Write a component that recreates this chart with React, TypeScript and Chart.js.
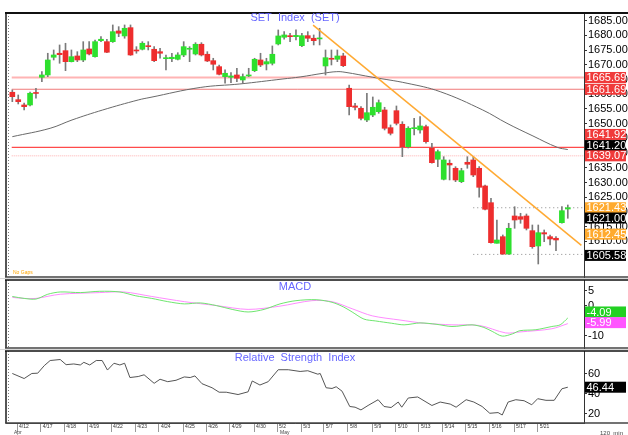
import React, { useEffect, useRef } from 'react';
import { Chart, registerables } from 'chart.js';

Chart.register(...registerables);

const FONT = "'Liberation Sans', Arial, sans-serif";

// ---------- SET Index, 120-min candles ----------
const opens = [1660.67,1658.15,1656.35,1656.35,1660.53,1665.76,1666.55,1672.56,1673.92,1674.80,
 1671.06,1673.00,1671.64,1675.38,1672.76,1678.20,1677.86,1677.86,1681.50,1679.80,
 1682.62,1675.04,1675.28,1676.40,1675.28,1674.46,1672.08,1672.08,1671.88,1673.34,
 1675.28,1673.68,1676.98,1673.58,1671.40,1669.37,1665.97,1665.76,1666.55,1664.85,
 1666.21,1668.01,1671.64,1670.28,1670.52,1677.08,1679.36,1679.80,1679.56,1676.50,
 1679.90,1679.02,1678.80,1669.60,1672.22,1671.88,1673.00,1662.03,1656.01,1655.23,
 1651.25,1652.95,1654.07,1654.65,1648.64,1654.41,1649.79,1642.18,1648.30,1647.86,
 1648.98,1641.64,1637.90,1631.10,1636.54,1634.84,1630.29,1636.88,1637.67,1634.84,
 1628.83,1623.15,1609.36,1611.60,1605.70,1618.63,1618.40,1618.63,1613.64,1608.44,
 1612.96,1611.60,1611.06,1616.36,1621.00];
const highs = [1661.45,1659.75,1657.03,1660.77,1662.03,1667.67,1673.92,1675.04,1676.74,1677.32,
 1675.04,1674.46,1677.86,1677.86,1678.44,1679.56,1678.68,1683.54,1682.96,1683.54,
 1683.54,1676.16,1677.86,1677.86,1676.16,1675.62,1673.34,1673.92,1674.12,1677.86,
 1676.16,1677.52,1677.52,1674.46,1672.22,1669.94,1668.25,1667.33,1668.82,1666.89,
 1668.82,1672.22,1673.92,1672.22,1676.40,1681.84,1681.26,1680.71,1681.84,1680.71,
 1681.26,1680.14,1682.41,1675.04,1675.04,1675.04,1673.92,1663.15,1656.93,1655.77,
 1660.33,1659.07,1658.05,1655.57,1649.56,1656.01,1650.67,1648.98,1651.83,1652.38,
 1649.56,1643.34,1641.06,1638.78,1637.67,1635.39,1634.84,1638.78,1638.78,1635.39,
 1629.17,1624.65,1617.27,1612.18,1616.15,1621.79,1619.55,1619.31,1615.57,1615.57,
 1613.88,1612.18,1611.60,1621.79,1622.37];
const lows = [1657.47,1656.69,1654.65,1656.01,1658.63,1664.27,1665.97,1671.64,1670.52,1668.01,
 1670.96,1671.06,1671.06,1673.34,1672.56,1677.86,1674.10,1677.60,1679.56,1679.02,
 1673.20,1673.92,1675.04,1675.04,1671.06,1672.22,1668.25,1671.06,1671.64,1672.76,
 1671.06,1673.34,1673.00,1671.06,1668.25,1666.55,1663.73,1663.93,1664.27,1663.73,
 1665.97,1667.67,1669.37,1668.25,1669.94,1676.74,1678.68,1677.86,1678.44,1676.16,
 1677.86,1676.74,1676.74,1666.55,1669.94,1671.06,1669.37,1652.95,1654.65,1651.25,
 1650.67,1652.38,1653.53,1647.86,1646.16,1649.56,1638.78,1641.74,1646.16,1646.74,
 1643.34,1636.54,1635.39,1630.87,1630.87,1630.29,1629.95,1634.84,1631.99,1625.00,
 1620.67,1609.36,1609.36,1605.58,1605.58,1614.45,1616.15,1613.88,1607.66,1602.32,
 1609.90,1608.78,1606.84,1616.15,1617.85];
const closes = [1659.17,1657.47,1655.77,1660.33,1660.26,1666.55,1671.64,1673.34,1673.44,1671.06,
 1672.76,1671.64,1675.04,1673.68,1677.86,1678.68,1674.26,1681.26,1680.71,1682.41,
 1673.34,1674.70,1677.32,1676.16,1671.40,1673.92,1672.42,1672.56,1673.34,1676.16,
 1675.62,1676.98,1673.34,1671.30,1670.18,1666.78,1667.12,1666.21,1665.42,1665.97,
 1666.55,1671.88,1669.94,1671.06,1673.58,1679.80,1680.14,1679.56,1680.00,1679.90,
 1679.02,1678.20,1679.02,1672.42,1671.88,1673.00,1669.71,1655.77,1655.57,1651.83,
 1653.73,1655.57,1657.13,1648.43,1646.74,1650.13,1642.18,1648.43,1648.64,1649.22,
 1643.88,1636.74,1640.48,1637.67,1635.96,1630.87,1634.03,1636.20,1632.56,1628.38,
 1620.91,1609.56,1610.48,1605.70,1614.45,1617.27,1617.51,1614.45,1608.20,1612.96,
 1612.52,1610.82,1610.48,1620.43,1621.43];

// moving average (bar position, value)
const maBars = [0, 6.4, 10.1, 15.3, 21.3, 23.3, 31.8, 38.5, 45.8, 48.7, 52.6, 54.9, 56.3, 61.0, 66.8, 72.4, 79.6, 83.7, 88.1, 92.2, 94];
const maValues = [1645.58, 1648.43, 1651.25, 1654.65, 1658.05, 1658.9, 1662.3, 1663.49, 1665.19, 1665.87, 1667.12, 1667.67, 1667.46, 1665.76, 1663.73, 1660.87, 1654.65, 1650.13, 1645.82, 1641.98, 1641.2];

// down trend line
const trendBars = [50.9, 96.3];
const trendValues = [1683.5, 1608.65];

// horizontal levels
const levelValues = [1665.69, 1661.69, 1641.92, 1639.07];
const levelStartBar = -0.1;
const supportValues = [1621.43, 1605.58];
const supportStartBar = 78;

const priceTicks = [1610, 1615, 1620, 1625, 1630, 1635, 1640, 1645, 1650, 1655, 1660, 1665, 1670, 1675, 1680, 1685];
const priceTags = [1665.69, 1661.69, 1641.92, 1641.20, 1639.07, 1621.43, 1621.00, 1612.45, 1605.58];

// ---------- MACD ----------
const macdBars = [0,2,4,6,8.1,11.5,14.8,18.2,20.9,23.6,26.3,29.1,31.8,34.5,37.2,39.9,42.6,45.3,48,51.4,54.1,56.1,57.5,59.5,61.5,64.2,66.3,69,71.7,74.4,77.8,79.8,81.2,82.9,84.6,85.9,88.6,91.3,92.7,94];
const macdValues = [3.15,2.5,2.28,3.9,4.67,4.46,4.9,4.67,3.37,2.5,1.41,0.65,0.98,0.1,-1.2,-2.07,-1.2,0.65,1.74,2.07,1.2,-0.43,-2.07,-4.46,-5.1,-5.87,-6.4,-5.76,-6.2,-6.96,-6.4,-7.28,-8.6,-10.2,-9.46,-8.37,-8.04,-6.96,-6.4,-4.09];
const signalBars = [0,2,4,8.1,14.8,18.9,23.6,29.1,34.5,39.9,45.3,50.7,54.1,57.5,60.9,65.6,69.7,74.4,79.1,83.5,85.9,91.3,94];
const signalValues = [2.83,2.5,2.5,3.9,4.46,4.67,3.15,1.41,0.1,-1.2,-0.1,1.74,1.41,-0.98,-3.37,-4.78,-5.87,-6.4,-6.63,-9.13,-8.8,-7.72,-5.99];
const macdTicks = [5, 0, -5, -10];
const macdTags = [-4.09, -5.99];

// ---------- RSI ----------
const rsiBars = [0,2,3.3,4.3,5.4,6.4,8.1,9.1,10.4,11.5,12.1,13.1,14.2,15.2,16.1,17.2,18.2,19,19.9,21.3,
 22.3,24,25,26.3,27.7,29.1,30.1,30.9,32.1,33.8,35,36.2,38.2,39.9,40.6,41.9,43.3,45,46.7,48.7,
 50,51.7,52.1,53.1,54.1,54.8,55.8,57.1,58,59,60.2,61.9,62.9,64.1,65.3,65.9,67,68.6,71,72.4,
 74.1,75.1,76.8,78.1,79.5,80.8,82.2,82.9,83.9,85.2,86.6,87.9,88.9,90.3,91.7,93,94];
const rsiValues = [60,55,60,60.3,67.7,72.8,73.8,68.7,69.4,68.4,71,68.4,72.8,72.8,63.4,70.1,68.4,70.1,56,57,
 58.7,50.3,54.3,51.9,53.3,56.6,56,57.6,49.9,45.9,41.5,41.5,39.2,41.9,52.6,48.6,51.9,63.7,63.7,62,
 62.7,59.3,60,45.9,45.2,46.9,42.5,27.4,26.7,24,28.4,34.1,27.4,26.4,31.8,26.7,35.8,36.8,28.4,31.8,
 29.8,26.7,34.1,31.8,27.4,20.7,21.4,19,31.8,34.1,33.1,29.1,35.1,33.5,33.5,44.9,46.44];
const rsiTicks = [20, 40, 60];
const rsiTags = [46.44];

// ---------- dates ----------
const dateLabels = ['4/12','4/17','4/18','4/19','4/22','4/23','4/24','4/25','4/26','4/29','4/30','5/2','5/3','5/7','5/8','5/9','5/10','5/13','5/14','5/15','5/16','5/17','5/21'];
const dateTickBars = [0.8,4.8,8.8,12.7,16.7,20.8,24.8,28.9,32.8,36.8,40.9,44.8,48.9,52.7,56.8,60.9,64.9,68.8,72.8,76.7,80.8,84.9,88.9];

// ---------- styling ----------
const X_MIN = -1.07;
const X_MAX = 96.74;
const GREEN = '#2ee02e';
const RED = '#ee2e2e';
const TITLE_COLOR = '#6666ff';

type Tag = { value: number; text: string; bg: string; nudge: number };
type Note = { text: string; x: number; y: number; size: number; color: string };

const priceTagStyle = [
  { bg: '#f03a3a', nudge: 0 },
  { bg: '#f03a3a', nudge: 0 },
  { bg: '#f03a3a', nudge: -13 },
  { bg: '#000000', nudge: -4 },
  { bg: '#f03a3a', nudge: 0 },
  { bg: '#ffaa2e', nudge: 0 },
  { bg: '#000000', nudge: 9 },
  { bg: '#ffaa2e', nudge: 0 },
  { bg: '#000000', nudge: 1 },
];
const macdTagStyle = [
  { bg: '#22d022', nudge: -6 },
  { bg: '#ff55ff', nudge: -1 },
];
const rsiTagStyle = [{ bg: '#000000', nudge: 0 }];

function panelPlugin(cfg: { title: string; titleY: number; tags: Tag[]; band: boolean; notes: Note[]; topWidth: number }) {
  return {
    id: 'panel',
    beforeDraw(chart: any) {
      const { ctx, width, height, chartArea: a } = chart;
      ctx.save();
      ctx.fillStyle = '#ffffff';
      ctx.fillRect(0, 0, width, height);
      if (cfg.band) {
        ctx.fillStyle = '#d6d6d6';
        ctx.fillRect(0, 0, width, a.top - 1);
      }
      ctx.restore();
    },
    afterDraw(chart: any) {
      const { ctx, width, chartArea: a } = chart;
      const y = chart.scales.y;
      ctx.save();
      ctx.strokeStyle = '#777';
      ctx.lineWidth = 1;
      ctx.setLineDash([1, 2]);
      ctx.beginPath();
      ctx.moveTo(a.left + 2.5, a.top);
      ctx.lineTo(a.left + 2.5, a.bottom);
      ctx.stroke();
      ctx.setLineDash([]);
      ctx.strokeStyle = '#555';
      ctx.lineWidth = 2;
      ctx.beginPath();
      ctx.moveTo(a.left, a.top);
      ctx.lineTo(a.left, a.bottom);
      ctx.stroke();
      ctx.strokeStyle = '#111';
      ctx.lineWidth = cfg.topWidth;
      ctx.beginPath();
      ctx.moveTo(a.left - 1, a.top);
      ctx.lineTo(width, a.top);
      ctx.stroke();
      ctx.strokeStyle = '#444';
      ctx.lineWidth = 1.5;
      ctx.beginPath();
      ctx.moveTo(a.left - 1, a.bottom);
      ctx.lineTo(width, a.bottom);
      ctx.stroke();
      ctx.font = `11px ${FONT}`;
      ctx.fillStyle = TITLE_COLOR;
      ctx.textAlign = 'center';
      ctx.textBaseline = 'middle';
      ctx.fillText(cfg.title, (a.left + a.right) / 2, cfg.titleY);
      ctx.textAlign = 'left';
      for (const t of cfg.tags) {
        const py = y.getPixelForValue(t.value) + t.nudge;
        ctx.fillStyle = t.bg;
        ctx.fillRect(a.right + 1, py - 5.5, 41, 11);
        ctx.fillStyle = '#ffffff';
        ctx.font = `11px ${FONT}`;
        ctx.fillText(t.text, a.right + 2.5, py + 0.5);
      }
      for (const n of cfg.notes) {
        ctx.font = `${n.size}px ${FONT}`;
        ctx.fillStyle = n.color;
        ctx.textAlign = 'left';
        ctx.fillText(n.text, n.x, n.y);
      }
      ctx.restore();
    },
  };
}

function yAxis(min: number, max: number, ticks: number[], fmt: (v: number) => string) {
  return {
    type: 'linear',
    position: 'right',
    min,
    max,
    afterFit: (s: any) => {
      s.width = 44;
      s.paddingTop = 0;
      s.paddingBottom = 0;
    },
    afterBuildTicks: (s: any) => {
      s.ticks = ticks.map((v) => ({ value: v }));
    },
    ticks: {
      autoSkip: false,
      callback: (v: any) => fmt(Number(v)),
      font: { family: FONT, size: 11 },
      color: '#000',
      padding: 1,
    },
    grid: { display: true, drawOnChartArea: false, drawTicks: true, tickLength: 3, color: '#333' },
    border: { display: true, color: '#333', dash: [1, 1] },
  };
}

const hiddenX = { type: 'linear', min: X_MIN, max: X_MAX, display: false, offset: false };

const baseOptions = {
  responsive: false,
  animation: false,
  events: [],
  plugins: { legend: { display: false }, tooltip: { enabled: false } },
};

function line(points: { x: number; y: number }[], color: string, width: number, order: number, dash: number[] = [], tension = 0) {
  return {
    type: 'line',
    data: points,
    borderColor: color,
    backgroundColor: color,
    borderWidth: width,
    borderDash: dash,
    pointRadius: 0,
    tension,
    order,
    fill: false,
  };
}

function buildMain() {
  const idx = closes.map((_, i) => i);
  const colors = closes.map((c, i) => (c >= opens[i] ? GREEN : RED));
  const levelStyles = [
    { color: '#ffb4b4', width: 2, dash: [] as number[] },
    { color: '#f07a7a', width: 1, dash: [] as number[] },
    { color: '#ff4a4a', width: 1.3, dash: [] as number[] },
    { color: '#ffb0b0', width: 1, dash: [1, 1] },
  ];
  const datasets: any[] = [];
  levelValues.forEach((v, k) => {
    datasets.push(line([{ x: levelStartBar, y: v }, { x: X_MAX, y: v }], levelStyles[k].color, levelStyles[k].width, 20, levelStyles[k].dash));
  });
  supportValues.forEach((v) => {
    datasets.push(line([{ x: supportStartBar, y: v }, { x: X_MAX, y: v }], '#888', 1, 20, [1, 3]));
  });
  datasets.push(line(maBars.map((x, k) => ({ x, y: maValues[k] })), '#6a6a6a', 1, 15, [], 0.4));
  datasets.push({
    type: 'bar',
    data: idx.map((i) => ({ x: i, y: [lows[i], highs[i]] })),
    backgroundColor: '#7a7a7a',
    barThickness: 1,
    grouped: false,
    order: 6,
  });
  datasets.push({
    type: 'bar',
    data: idx.map((i) => ({ x: i, y: [opens[i], closes[i]] })),
    backgroundColor: colors,
    barThickness: 5,
    minBarLength: 1,
    grouped: false,
    order: 5,
  });
  datasets.push(line(trendBars.map((x, k) => ({ x, y: trendValues[k] })), '#ffaa33', 1.5, 1));

  const tags: Tag[] = priceTags.map((v, k) => ({ value: v, text: v.toFixed(2), bg: priceTagStyle[k].bg, nudge: priceTagStyle[k].nudge }));
  return {
    type: 'bar',
    data: { datasets },
    options: {
      ...baseOptions,
      layout: { padding: { left: 6, right: 0, top: 13, bottom: 1 } },
      scales: {
        x: hiddenX,
        y: yAxis(1597.9, 1687.6, priceTicks, (v) => v.toFixed(2)),
      },
    },
    plugins: [
      panelPlugin({
        title: 'SET  Index  (SET)',
        titleY: 18,
        tags,
        band: false,
        topWidth: 2,
        notes: [{ text: 'No Gaps', x: 13, y: 272.5, size: 5, color: '#ffa500' }],
      }),
    ],
  };
}

function buildMacd() {
  const tags: Tag[] = macdTags.map((v, k) => ({ value: v, text: v.toFixed(2), bg: macdTagStyle[k].bg, nudge: macdTagStyle[k].nudge }));
  return {
    type: 'line',
    data: {
      datasets: [
        line(signalBars.map((x, k) => ({ x, y: signalValues[k] })), '#ff8cff', 1, 2, [], 0.3),
        line(macdBars.map((x, k) => ({ x, y: macdValues[k] })), '#6fe66f', 1, 1, [], 0.3),
      ],
    },
    options: {
      ...baseOptions,
      layout: { padding: { left: 6, right: 0, top: 2, bottom: 1 } },
      scales: {
        x: hiddenX,
        y: yAxis(-14.2, 8.7, macdTicks, (v) => String(v)),
      },
    },
    plugins: [panelPlugin({ title: 'MACD', titleY: 9, tags, band: true, topWidth: 1.5, notes: [] })],
  };
}

function buildRsi() {
  const tags: Tag[] = rsiTags.map((v, k) => ({ value: v, text: v.toFixed(2), bg: rsiTagStyle[k].bg, nudge: rsiTagStyle[k].nudge }));
  return {
    type: 'line',
    data: {
      datasets: [line(rsiBars.map((x, k) => ({ x, y: rsiValues[k] })), '#555', 1, 1)],
    },
    options: {
      ...baseOptions,
      layout: { padding: { left: 6, right: 0, top: 2, bottom: 1 } },
      scales: {
        x: {
          type: 'linear',
          position: 'bottom',
          min: X_MIN,
          max: X_MAX,
          offset: false,
          afterFit: (s: any) => {
            s.height = 11;
            s.paddingLeft = 0;
            s.paddingRight = 0;
          },
          afterBuildTicks: (s: any) => {
            s.ticks = dateTickBars.map((v) => ({ value: v }));
          },
          ticks: {
            autoSkip: false,
            maxRotation: 0,
            minRotation: 0,
            align: 'start',
            labelOffset: 2,
            padding: -8,
            font: { family: FONT, size: 5 },
            color: '#333',
            callback: (_v: any, i: number) => dateLabels[i],
          },
          grid: { display: true, drawOnChartArea: false, drawTicks: true, tickLength: 9, color: '#999' },
          border: { display: true, color: '#444' },
        },
        y: yAxis(11.1, 82.2, rsiTicks, (v) => String(v)),
      },
    },
    plugins: [
      panelPlugin({
        title: 'Relative  Strength  Index',
        titleY: 8.5,
        tags,
        band: true,
        topWidth: 1.5,
        notes: [
          { text: 'Apr', x: 14, y: 84, size: 5, color: '#444' },
          { text: 'May', x: 280, y: 84, size: 5, color: '#444' },
          { text: '120  min', x: 600, y: 84, size: 6, color: '#444' },
        ],
      }),
    ],
  };
}

export default function App() {
  const mainRef = useRef<HTMLCanvasElement>(null);
  const macdRef = useRef<HTMLCanvasElement>(null);
  const rsiRef = useRef<HTMLCanvasElement>(null);

  useEffect(() => {
    const charts = [
      new Chart(mainRef.current as HTMLCanvasElement, buildMain() as any),
      new Chart(macdRef.current as HTMLCanvasElement, buildMacd() as any),
      new Chart(rsiRef.current as HTMLCanvasElement, buildRsi() as any),
    ];
    return () => charts.forEach((c) => c.destroy());
  }, []);

  return (
    <div style={{ position: 'absolute', left: 0, top: 0, width: 628, height: 435, background: '#fff', overflow: 'hidden' }}>
      <canvas ref={mainRef} width={628} height={278} style={{ position: 'absolute', left: 0, top: 0, width: 628, height: 278 }} />
      <canvas ref={macdRef} width={628} height={71} style={{ position: 'absolute', left: 0, top: 278, width: 628, height: 71 }} />
      <canvas ref={rsiRef} width={628} height={86} style={{ position: 'absolute', left: 0, top: 349, width: 628, height: 86 }} />
    </div>
  );
}
